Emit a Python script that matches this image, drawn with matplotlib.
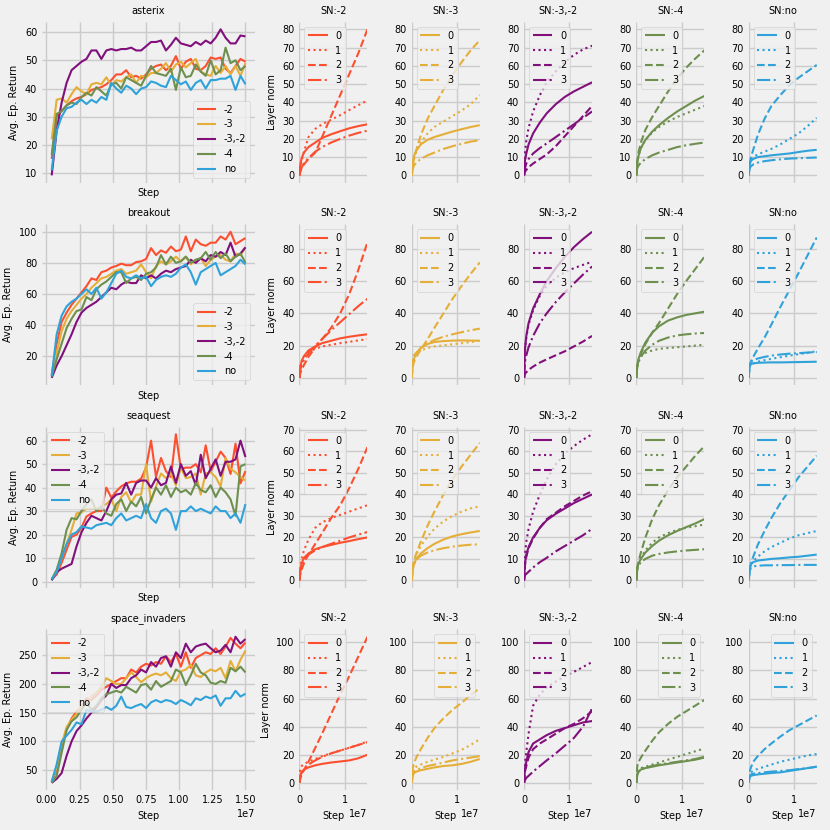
import numpy as np
import matplotlib.pyplot as plt

plt.style.use('fivethirtyeight')
plt.rcParams.update({
    'font.family': ['DejaVu Sans'],
    'font.size': 7,
    'axes.titlesize': 7,
    'axes.labelsize': 7,
    'xtick.labelsize': 7,
    'ytick.labelsize': 7,
    'legend.fontsize': 7,
    'lines.linewidth': 1.5,
    'axes.linewidth': 0,
    'grid.linewidth': 1.0,
    'grid.color': '#cbcbcb',
    'figure.facecolor': '#f0f0f0',
    'savefig.facecolor': '#f0f0f0',
    'legend.edgecolor': '0.8',
    'legend.framealpha': 0.8,
})

games = ['asterix', 'breakout', 'seaquest', 'space_invaders']
configs = ['-2', '-3', '-3,-2', '-4', 'no']
colors = ['#fc4f30', '#e5ae38', '#810f7c', '#6d904f', '#30a2da']
layers = ['0', '1', '2', '3']
layer_styles = ['-', ':', '--', '-.']

# evaluation steps for the returns (left column)
ret_steps = np.linspace(0.04e7, 1.5e7, 40)
# steps at which layer norms were logged
norm_steps = np.array([0, 0.02, 0.05, 0.1, 0.2, 0.35, 0.5, 0.7, 0.9, 1.1, 1.3, 1.5]) * 1e7

# average episode return, one list per SN config
ret_asterix = {
    '-2': [15, 30, 32, 34, 35.5, 36.5, 37, 38, 39.5, 40, 40.5, 41.5, 43, 45, 45, 46.5, 44, 44.5, 43.5, 45,
           47, 48, 48.5, 46.5, 48, 51.5, 47, 49.5, 50.5, 47, 46.5, 48, 51, 50.5, 51, 47, 45.5, 48, 50.5, 49.5],
    '-3': [22, 36, 36.5, 35, 38, 40.5, 39, 38, 41.5, 42, 41.5, 44, 41, 43, 42.5, 44, 45, 42, 44.5, 44,
           45.5, 45.5, 47, 49, 46, 48.5, 49.5, 47.5, 49, 50.5, 46, 45, 44.5, 48, 45.5, 48, 45, 48, 44.5, 49],
    '-3,-2': [9.2, 25, 35, 42, 46.5, 48, 49.5, 50.5, 53.5, 53.5, 50.5, 53.5, 54, 53.5, 54, 54, 54.5, 53.5, 53.5, 55,
              56.5, 56.5, 57, 53.5, 55.5, 58, 56, 55.5, 55, 56.5, 55.5, 57, 56, 58, 61, 58, 56, 56, 58.8, 58.5],
    '-4': [16.5, 31, 32, 34, 35, 34.5, 37, 38.5, 37.5, 40.5, 39, 37.5, 41.5, 42, 40, 44, 43, 42, 41, 44.5,
           48, 45.5, 45, 44.5, 47, 39.5, 47.5, 44, 44.5, 48.5, 46, 44.5, 50, 45, 46.5, 54.5, 49, 50, 46.5, 48],
    'no': [11, 25, 30, 33, 33.5, 35, 36, 34.5, 36, 35, 37, 36, 42, 40, 38.5, 41, 40, 38, 40, 40.5,
           42.5, 42, 41, 40.5, 44.5, 43, 41.5, 42.5, 39.5, 42, 43, 40, 43, 43, 43.5, 43.5, 44.5, 39.5, 44.5, 41.5],
}
ret_breakout = {
    '-2': [8, 28, 42, 48, 53, 57, 61, 65, 70, 69, 74, 75, 77, 78, 79.5, 78.5, 78.5, 80.5, 81, 82.5,
           89.5, 85, 88, 86.5, 90.5, 87.5, 88.5, 97, 87.5, 95, 92, 91, 93, 93, 97, 95, 100, 92, 94, 96],
    '-3': [8, 22, 36, 44, 49, 53, 57, 60, 64, 67, 70, 71, 73, 75, 76, 73, 74, 75, 79, 74,
           70, 78, 81, 79, 81, 84, 81, 84, 79, 82, 83, 78, 82, 84, 85, 82, 81, 86, 85, 90],
    '-3,-2': [6, 14, 20, 27, 34, 42, 48, 51, 53, 55, 58, 61, 64, 63, 66, 68, 67, 67, 72, 70,
              72, 70, 73, 75, 74, 76, 77, 78, 82, 80, 83, 81, 85, 84, 87, 85, 93, 84, 86, 90],
    '-4': [7, 18, 28, 38, 44, 49, 50, 58, 56, 63, 66, 68, 71, 74, 74, 67, 70, 71, 69, 73,
           74, 77, 85, 79, 84, 80, 81, 84, 80, 82, 83, 87, 82, 87, 83, 86, 81, 84, 86, 80],
    'no': [7, 34, 46, 52, 55, 57, 60, 63, 60, 64, 57, 61, 67, 73, 75, 71, 70, 72, 70, 71,
           65, 69, 71, 72, 71, 73, 77, 79, 74, 66, 74, 76, 78, 80, 72, 74, 76, 78, 82, 79],
}
ret_seaquest = {
    '-2': [1, 3, 8, 13.5, 19, 20, 23, 27.7, 29, 30, 30, 40, 35.7, 38.4, 40.5, 41.8, 42.5, 42.5, 43.8, 48.5,
           60, 44.5, 52.6, 47, 44.5, 62.7, 48, 48.5, 48.5, 50, 46.5, 58, 47, 51, 55.3, 52.6, 45.8, 58.7, 41.8, 47],
    '-3': [1, 4, 10, 16, 22, 29, 29.5, 31, 31, 31, 32, 33, 35, 30, 36, 38, 33.5, 37, 37, 50,
           34, 40.5, 46, 44, 46, 41, 48.5, 44, 44.5, 46, 37, 46, 46.5, 44.5, 40.5, 52.6, 48, 46.5, 44.5, 43],
    '-3,-2': [0.5, 4, 5.5, 6.5, 7.5, 15, 21, 25, 28, 27, 26, 30, 35, 37, 37.5, 42, 37, 42, 43, 43,
              40, 44, 41, 42, 49, 42, 50, 45, 47, 41, 54, 44, 48, 52, 45, 51, 51, 52, 60, 53],
    '-4': [1, 5, 12, 22, 27, 26.5, 30, 33, 35, 30, 32, 29, 28, 33, 35, 30, 34, 32, 36, 29,
           35, 40, 37, 41, 36, 40, 38, 39, 37, 42, 39, 38, 41, 36, 40, 38, 35, 28, 49, 50],
    'no': [1, 4, 10, 16, 20, 21, 23.5, 23, 22.5, 24, 24.5, 25, 24, 27, 29, 26, 27, 28, 27, 33,
           27, 25, 30, 31, 29, 22, 30, 30, 32, 30, 31, 30, 29, 32, 30, 30, 27, 29, 25, 33],
}
ret_space_invaders = {
    '-2': [30, 50, 90, 120, 140, 152, 160, 175, 172, 180, 190, 195, 200, 205, 210, 210, 225, 220, 230, 235,
           232, 238, 235, 248, 238, 252, 230, 255, 228, 245, 250, 255, 252, 262, 252, 265, 280, 270, 262, 272],
    '-3': [30, 55, 95, 125, 138, 148, 160, 168, 178, 185, 195, 210, 205, 200, 200, 210, 220, 212, 203, 210,
           215, 218, 215, 220, 210, 205, 222, 225, 233, 215, 212, 220, 225, 222, 228, 210, 240, 222, 242, 258],
    '-3,-2': [28, 35, 45, 75, 100, 118, 128, 140, 150, 160, 172, 180, 200, 193, 198, 198, 210, 215, 225, 220,
              238, 230, 245, 248, 230, 255, 245, 270, 255, 265, 268, 270, 262, 255, 258, 268, 255, 282, 270, 278],
    '-4': [28, 40, 80, 120, 135, 142, 155, 168, 155, 162, 175, 182, 185, 188, 185, 195, 190, 185, 198, 200,
           190, 205, 195, 200, 205, 225, 220, 198, 215, 235, 220, 215, 202, 200, 205, 202, 228, 222, 230, 220],
    'no': [30, 60, 100, 110, 120, 133, 130, 155, 152, 152, 155, 160, 155, 162, 178, 160, 158, 162, 165, 158,
           168, 172, 168, 172, 170, 165, 172, 168, 163, 175, 172, 178, 175, 180, 162, 175, 175, 188, 178, 183],
}

# layer norms, one list per layer (0..3) for every SN config
norm_asterix = {
    '-2': [[0, 6, 9.5, 12.5, 15.5, 18, 20.5, 22.5, 24.2, 25.8, 27, 28],
           [0, 4, 8, 13, 21, 25.5, 28, 30.5, 33, 35.8, 38.5, 41],
           [0, 2, 4, 6, 9, 12.5, 21, 32.5, 44, 55.5, 67, 80],
           [0, 2.5, 4.5, 6.5, 9.5, 13, 15.5, 18, 20, 21.8, 23.3, 24.5]],
    '-3': [[0, 7, 10.5, 13.5, 17, 19.5, 21, 22.5, 24, 25.3, 26.5, 27.5],
           [0, 6, 9.5, 13, 18, 23, 26.5, 29.5, 32.5, 35.5, 39, 44],
           [0, 5, 9, 14, 22, 31, 38, 47, 55, 62, 68.5, 74],
           [0, 3.5, 5.5, 7, 9, 11, 12.5, 14.5, 16, 17.3, 18.5, 19.3]],
    '-3,-2': [[0, 8, 12, 17, 23, 29, 34, 39, 43, 46, 48.5, 51],
              [0, 12, 19, 26, 35, 44, 51, 57, 62, 66, 69, 71],
              [0, 2, 3, 4.5, 6.5, 9, 11.5, 16, 21.5, 27, 32.5, 38],
              [0, 4, 6.5, 9, 12, 15, 17.5, 21, 24.5, 28, 31.5, 35]],
    '-4': [[0, 7, 11, 15, 19.5, 24, 27.5, 31.5, 35, 38, 41, 43.5],
           [0, 7, 11, 15, 19.5, 23.5, 26.5, 29.5, 32, 34, 36, 38],
           [0, 8, 13, 18, 25, 32, 38, 46, 53, 59, 64, 68.5],
           [0, 4, 5.5, 7, 9, 11, 12.5, 14, 15.5, 16.5, 17.3, 18]],
    'no': [[0, 6, 8, 9, 10, 10.5, 11, 11.5, 12, 12.8, 13.5, 14],
           [0, 6, 9, 10, 11.5, 13, 14.5, 17, 20, 23, 27, 31.5],
           [0, 6, 10, 14, 22, 31, 38, 44, 49.5, 53.5, 57, 60.5],
           [0, 4, 5, 6, 7, 7.8, 8.3, 8.8, 9.2, 9.4, 9.6, 9.8]],
}
norm_breakout = {
    '-2': [[0, 7, 10.5, 13.5, 17, 19.5, 21.5, 23, 24.5, 25.5, 26.3, 27],
           [0, 7, 10, 13, 16, 18, 19.5, 20.5, 21.5, 22.3, 23.2, 24],
           [0, 3, 5, 8, 13, 19, 24, 31, 40, 52, 67, 84],
           [0, 5, 8, 11, 15, 20, 24, 29.5, 34.5, 39.5, 44.5, 49]],
    '-3': [[0, 8, 12, 15, 18.5, 21, 22.2, 22.8, 23.1, 23.2, 23.1, 23],
           [0, 10, 13, 15, 17, 18.5, 19.5, 20.2, 20.8, 21.5, 22.2, 23],
           [0, 7, 10, 13, 17.5, 24, 31, 40, 49, 57, 64.5, 71.5],
           [0, 12, 14, 15.5, 18.5, 21.5, 23.5, 25.5, 27, 28.3, 29.5, 30.5]],
    '-3,-2': [[0, 18, 26, 34, 43, 52, 60, 68, 75, 81, 86, 90.5],
              [0, 17, 25, 33, 42, 51, 57, 62, 65.5, 68, 70, 72],
              [0, 2.5, 3.5, 5, 7, 9.5, 11.5, 14, 16.5, 19.5, 22.5, 26],
              [0, 10, 14, 19, 26, 34, 40, 47, 53, 58.5, 64, 69]],
    '-4': [[0, 8, 12, 16, 22, 28, 32, 35.5, 37.5, 39, 40, 41],
           [0, 8, 11, 13.5, 15.5, 17, 18, 18.5, 19, 19.5, 20, 20.5],
           [0, 7, 11, 15, 21, 28, 34, 43, 52, 60, 67.5, 75],
           [0, 7, 10, 13, 17, 20.5, 23, 25, 26.3, 27, 27.5, 27.8]],
    'no': [[0, 7, 8.5, 9, 9.3, 9.5, 9.6, 9.6, 9.7, 9.8, 9.9, 10],
           [0, 8, 8.5, 9, 10, 11, 11.8, 12.8, 13.8, 14.7, 15.5, 16.5],
           [0, 8, 10, 13, 18, 25, 33, 44, 54.5, 65, 76, 87],
           [0, 9, 10, 11, 12, 13, 13.8, 14.5, 15, 15.3, 15.7, 16]],
}
norm_seaquest = {
    '-2': [[0, 5, 8, 10.5, 12.5, 14.5, 15.5, 16.5, 17.5, 18.3, 19.2, 20],
           [0, 6, 10, 14, 19, 24.5, 27, 29, 30.5, 32, 33.5, 35],
           [0, 3, 5, 8, 12, 17, 22, 29, 35, 43, 52, 62],
           [0, 4, 7, 9.5, 12, 14, 15.5, 17, 18.5, 20, 21.3, 22.5]],
    '-3': [[0, 5, 7.5, 10, 12.5, 15, 17, 19, 20.5, 21.5, 22.3, 23],
           [0, 6, 9, 12, 16, 20.5, 24, 27.5, 30, 32, 33.5, 34.5],
           [0, 6, 9, 12.5, 18, 25.5, 32, 40, 47, 53, 58.5, 64],
           [0, 5, 7.5, 9.5, 11.5, 13, 14, 15, 15.7, 16.2, 16.6, 16.8]],
    '-3,-2': [[0, 8, 12, 15.5, 20, 24.5, 28, 31, 33.5, 36, 38, 40],
              [0, 12, 18, 24, 32, 40, 47, 54, 59, 62.5, 65.5, 68],
              [0, 7, 11, 15, 19.5, 24.5, 28.5, 31.5, 34.5, 37, 39.5, 41.5],
              [0, 2.5, 3, 4, 6, 8.5, 10.5, 13.5, 16, 18.5, 21, 24]],
    '-4': [[0, 6, 8, 10, 13, 16, 18.5, 21, 23, 24.8, 26.5, 28.5],
           [0, 6, 8, 10.5, 14, 17.5, 20, 22, 23.5, 24.5, 25.2, 26],
           [0, 6, 9, 13, 20, 28.5, 35, 42, 48, 53, 58, 62.5],
           [0, 5, 7, 8.5, 10, 11.5, 12.3, 13, 13.5, 13.9, 14.2, 14.5]],
    'no': [[0, 5, 7.5, 8.5, 9.2, 9.6, 10, 10.3, 10.7, 11, 11.5, 12],
           [0, 5, 7.5, 9, 11, 13.5, 15.5, 17.5, 19.5, 21, 22, 23],
           [0, 5, 8, 11, 16.5, 23, 29, 36, 42, 48, 53, 58],
           [0, 4, 6, 6.5, 6.8, 7, 7, 7.1, 7.1, 7.2, 7.2, 7.2]],
}
norm_space_invaders = {
    '-2': [[0, 5, 7.5, 9.5, 11, 12.5, 13.5, 14.5, 15.2, 16, 17.5, 20],
           [0, 10, 12, 13.5, 15, 17, 19, 21, 23, 25, 27, 29.5],
           [0, 3, 6, 9, 15, 25, 35, 49, 63, 76, 90, 104],
           [0, 5, 7.5, 10, 13, 16, 18.5, 21, 23, 25, 27, 29]],
    '-3': [[0, 5, 7, 8, 9, 10, 11, 12, 12.5, 13.5, 15, 17],
           [0, 8, 10, 11.5, 13, 15, 16.5, 18.5, 21, 23.5, 27, 31],
           [0, 10, 14, 18, 24, 32, 39, 46, 52, 57, 62.5, 67.5],
           [0, 7, 8, 9, 10.5, 12, 13, 14.5, 16, 17, 18, 19]],
    '-3,-2': [[0, 10, 15, 22, 28, 31, 34, 37, 39, 41, 43, 44],
              [0, 14, 22, 35, 55, 63, 68, 72, 76, 79, 82.5, 86],
              [0, 8, 12, 18, 24, 28, 31, 35, 39, 42, 46, 51],
              [0, 2, 3.5, 5, 8, 12, 16, 21, 26.5, 32, 40, 53]],
    '-4': [[0, 6, 8, 9.5, 10.5, 11.5, 12.5, 13.5, 14.5, 15.5, 16.5, 18],
           [0, 8, 9.5, 10.5, 11.5, 13, 14.5, 16.5, 18.5, 20.5, 22.5, 24.5],
           [0, 12, 15, 18, 23, 30, 36, 42, 47, 51, 55, 59],
           [0, 6, 8, 9.5, 11, 12, 13, 14, 15, 16, 17, 18.5]],
    'no': [[0, 4, 5, 5.5, 6, 6.5, 7, 7.5, 8.5, 9.5, 10.5, 11.5],
           [0, 6, 7.5, 8.5, 10, 11.5, 13, 15, 16.5, 18, 19.5, 20.5],
           [0, 8, 11, 15, 19, 24, 28, 33, 37.5, 41, 44.5, 48],
           [0, 5, 6, 6.5, 7, 7.5, 8, 8.5, 9, 9.8, 10.5, 11.5]],
}

returns = [ret_asterix, ret_breakout, ret_seaquest, ret_space_invaders]
norms = [norm_asterix, norm_breakout, norm_seaquest, norm_space_invaders]
ret_legend_loc = ['lower right', 'lower right', 'upper left', 'upper left']
ret_yticks = [np.arange(10, 61, 10), np.arange(20, 101, 20), np.arange(0, 61, 10), np.arange(50, 251, 50)]
norm_yticks = [np.arange(0, 81, 10), np.arange(0, 81, 20), np.arange(0, 71, 10), np.arange(0, 101, 20)]
norm_legend_loc = [['upper left'] * 5, ['upper left'] * 5, ['upper left'] * 5,
                   ['upper left', 'upper right', 'upper left', 'upper right', 'upper right']]


def main():
    fig, axes = plt.subplots(
        4, 6, figsize=(8.3, 8.3), dpi=100, sharex='col',
        gridspec_kw=dict(width_ratios=[213, 68, 68, 68, 68, 68], left=0.0506, right=0.984,
                         top=0.9735, bottom=0.048, hspace=0.26, wspace=0.48))

    for r, game in enumerate(games):
        ax = axes[r, 0]
        for cfg, col in zip(configs, colors):
            ax.plot(ret_steps, returns[r][cfg], color=col, label=cfg)
        ax.set_title(game)
        ax.set_ylabel('Avg. Ep. Return')
        ax.set_xlabel('Step')
        ax.set_yticks(ret_yticks[r])
        ax.set_xticks(np.arange(0, 1.51, 0.25) * 1e7)
        ax.legend(loc=ret_legend_loc[r])

        for c, cfg in enumerate(configs):
            ax = axes[r, c + 1]
            if c > 0:
                ax.sharey(axes[r, 1])
            for layer, ls, vals in zip(layers, layer_styles, norms[r][cfg]):
                ax.plot(norm_steps, vals, color=colors[c], linestyle=ls, label=layer)
            ax.set_title('SN:' + cfg)
            ax.set_xlim(0, norm_steps[-1])
            ax.set_xticks([0, 1e7])
            ax.legend(loc=norm_legend_loc[r][c])
            if c == 0:
                ax.set_ylabel('Layer norm')
            if r == len(games) - 1:
                ax.set_xlabel('Step')
        axes[r, 1].set_yticks(norm_yticks[r])

    for ax in axes.flat:
        ax.tick_params(length=0, labelleft=True)
        ax.grid(True)

    fig.savefig('out.png', dpi=100)


if __name__ == '__main__':
    main()
